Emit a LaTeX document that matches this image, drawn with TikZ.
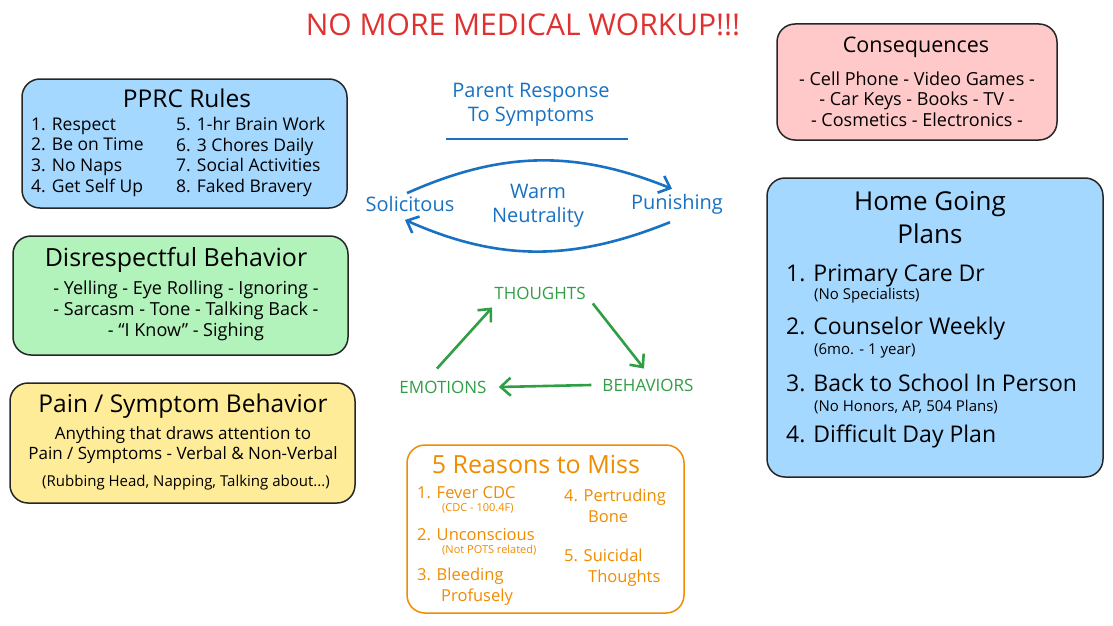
\documentclass[tikz,border=0pt]{standalone}
\usepackage{fontspec}
\setmainfont{Open Sans}
\usetikzlibrary{positioning, arrows.meta}
\definecolor{rulesfill}{HTML}{A5D8FF}
\definecolor{consfill}{HTML}{FFC9C9}
\definecolor{disfill}{HTML}{B2F2BB}
\definecolor{painfill}{HTML}{FFEC99}
\definecolor{titlered}{HTML}{E03131}
\definecolor{respblue}{HTML}{1971C2}
\definecolor{cyclegreen}{HTML}{2F9E44}
\definecolor{missorange}{HTML}{F08C00}
\newcommand{\fs}[2]{\fontsize{#1}{#2}\selectfont}
\tikzset{
  panel/.style={draw=black!85, line width=1.5pt, rounded corners=18pt},
  head/.style={inner sep=0pt, font=\fs{23}{27}},
  listing/.style={inner sep=0pt, anchor=west, align=left, font=\fs{17.5}{20.7}},
  dashes/.style={inner sep=0pt, align=center, font=\fs{18}{20.7}},
  note/.style={inner sep=0pt, anchor=west, font=\fs{15}{17}},
  resp/.style={respblue, inner sep=0pt, font=\fs{20}{24}},
  resparrow/.style={respblue, line width=2.6pt, -{Straight Barb[length=10pt, width=18pt]}},
  cyc/.style={cyclegreen, inner sep=0pt, font=\fs{17}{20}},
  cycarrow/.style={cyclegreen, line width=2.6pt, -{Straight Barb[length=10pt, width=18pt]}},
  miss/.style={missorange, inner sep=0pt, anchor=west, align=left, font=\fs{16.5}{21}}
}
\begin{document}
\begin{tikzpicture}[x=1pt, y=-1pt]
  \useasboundingbox (0,0) rectangle (1113,626);

  % title
  \node[titlered, inner sep=0pt, font=\fs{30}{34}] (title) at (523,25) {NO MORE MEDICAL WORKUP!!!};

  % PPRC rules
  \node[panel, fill=rulesfill, minimum width=325, minimum height=129] (rules) at (184.5,143.5) {};
  \node[head, font=\fs{24.5}{28}] (rules-head) at (187,98) {PPRC Rules};
  \node[listing] (rules-a) at (31,157) {1. Respect\\2. Be on Time\\3. No Naps\\4. Get Self Up};
  \node[listing] (rules-b) at (176,157) {5. 1-hr Brain Work\\6. 3 Chores Daily\\7. Social Activities\\8. Faked Bravery};

  % consequences
  \node[panel, fill=consfill, minimum width=280, minimum height=116] (cons) at (917,82) {};
  \node[head, font=\fs{21.5}{25}] (cons-head) at (916,47) {Consequences};
  \node[dashes] (cons-list) at (917,99) {- Cell Phone - Video Games -\\- Car Keys - Books - TV -\\- Cosmetics - Electronics -};

  % disrespectful behavior
  \node[panel, fill=disfill, minimum width=335, minimum height=119] (dis) at (180.5,295.5) {};
  \node[head, font=\fs{25}{29}] (dis-head) at (176,260) {Disrespectful Behavior};
  \node[dashes] (dis-list) at (186,311) {- Yelling - Eye Rolling - Ignoring -\\- Sarcasm - Tone - Talking Back -\\- ``I Know'' - Sighing};

  % pain / symptom behavior
  \node[panel, fill=painfill, minimum width=345, minimum height=120] (pain) at (182.5,443) {};
  \node[head, font=\fs{24.5}{28}] (pain-head) at (183,406) {Pain / Symptom Behavior};
  \node[dashes, font=\fs{17}{20}] (pain-list) at (183,445) {Anything that draws attention to\\Pain / Symptoms - Verbal \& Non-Verbal};
  \node[inner sep=0pt, font=\fs{15}{17}] (pain-note) at (186,483) {(Rubbing Head, Napping, Talking about...)};

  % parent response
  \node[resp, align=center] (parent) at (531,105) {Parent Response\\To Symptoms};
  \coordinate (rule-a) at (446,139);
  \coordinate (rule-b) at (628,139);
  \draw[respblue, line width=2.4pt] (rule-a) -- (rule-b);
  \node[resp] (solic) at (410,204) {Solicitous};
  \node[resp] (punish) at (677,204) {Punishing};
  \node[resp, align=center] (warm) at (538,206) {Warm\\Neutrality};
  \draw[resparrow] ([xshift=-3pt, yshift=3pt]solic.north) to[out=24, in=158] ([xshift=-5pt, yshift=5pt]punish.north);
  \draw[resparrow] ([xshift=-7pt, yshift=-8pt]punish.south) to[out=-158, in=-24] ([xshift=-5pt, yshift=-8pt]solic.south);

  % thoughts / behaviors / emotions
  \node[cyc] (thoughts) at (540,293) {THOUGHTS};
  \node[cyc] (behav) at (648,385) {BEHAVIORS};
  \node[cyc] (emot) at (443,387) {EMOTIONS};
  \draw[cycarrow] ([xshift=-6pt, yshift=12pt]emot.north) -- ([xshift=-2pt, yshift=-8pt]thoughts.south west);
  \draw[cycarrow] ([xshift=7pt, yshift=-4pt]thoughts.south east) -- ([xshift=-4pt, yshift=10pt]behav.north);
  \draw[cycarrow] ([xshift=-11pt]behav.west) -- ([xshift=12pt]emot.east);

  % 5 reasons to miss
  \node[panel, draw=missorange, fill=white, minimum width=277, minimum height=168] (reasons) at (545.5,529) {};
  \node[head, missorange, font=\fs{25}{29}] (reasons-head) at (536,464) {5 Reasons to Miss};
  \node[miss] (miss-1) at (417,493) {1. Fever CDC};
  \node[miss, font=\fs{11}{13}] (miss-1n) at (442,508) {(CDC - 100.4F)};
  \node[miss] (miss-2) at (417,535) {2. Unconscious};
  \node[miss, font=\fs{11}{13}] (miss-2n) at (442,550) {(Not POTS related)};
  \node[miss] (miss-3) at (417,587) {3. Bleeding\\\hspace*{24pt}Profusely};
  \node[miss] (miss-4) at (564,506) {4. Pertruding\\\hspace*{24pt}Bone};
  \node[miss] (miss-5) at (564,568) {5. Suicidal\\\hspace*{24pt}Thoughts};

  % home going plans
  \node[panel, fill=rulesfill, minimum width=336, minimum height=299] (home) at (935,327.5) {};
  \node[head, align=center, font=\fs{26}{33}] (home-head) at (930,218) {Home Going\\Plans};
  \node[listing, font=\fs{23}{26}] (home-1) at (786,276) {1. Primary Care Dr};
  \node[note] (home-1n) at (814,296) {(No Specialists)};
  \node[listing, font=\fs{23}{26}] (home-2) at (786,329) {2. Counselor Weekly};
  \node[note] (home-2n) at (814,351) {(6mo. - 1 year)};
  \node[listing, font=\fs{23}{26}] (home-3) at (786,383) {3. Back to School In Person};
  \node[note] (home-3n) at (814,407) {(No Honors, AP, 504 Plans)};
  \node[listing, font=\fs{23}{26}] (home-4) at (786,436) {4. Difficult Day Plan};
\end{tikzpicture}
\end{document}
